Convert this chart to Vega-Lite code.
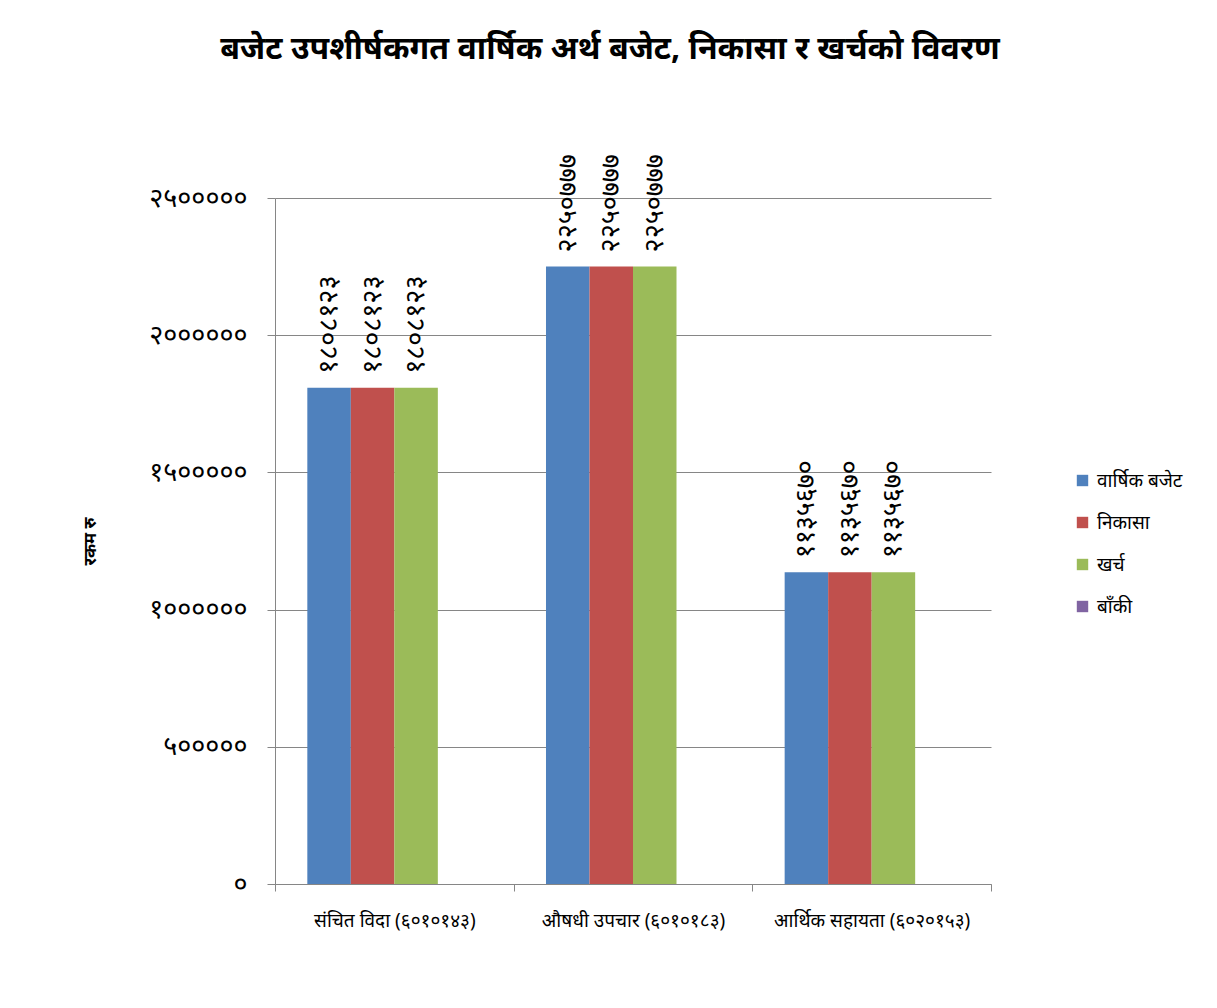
{
  "$schema": "https://vega.github.io/schema/vega-lite/v6.json",
  "autosize": "none",
  "width": 716,
  "height": 686,
  "padding": {"left": 275, "top": 198, "right": 226, "bottom": 124},
  "background": "white",
  "config": {
    "font": "Noto Sans",
    "view": {"stroke": null},
    "axis": {"domainColor": "#868686", "tickColor": "#868686", "gridColor": "#868686", "labelColor": "black", "titleColor": "black"}
  },
  "title": {
    "text": "बजेट उपशीर्षकगत वार्षिक अर्थ बजेट, निकासा र खर्चको विवरण",
    "fontSize": 32,
    "fontWeight": "bold",
    "color": "black",
    "anchor": "middle",
    "frame": "group",
    "dx": -23,
    "offset": 88
  },
  "data": {
    "values": [
      {"category": "संचित विदा (६०१०१४३)", "series": "वार्षिक बजेट", "value": 1808123},
      {"category": "संचित विदा (६०१०१४३)", "series": "निकासा", "value": 1808123},
      {"category": "संचित विदा (६०१०१४३)", "series": "खर्च", "value": 1808123},
      {"category": "संचित विदा (६०१०१४३)", "series": "बाँकी", "value": 0},
      {"category": "औषधी उपचार (६०१०१८३)", "series": "वार्षिक बजेट", "value": 2250777},
      {"category": "औषधी उपचार (६०१०१८३)", "series": "निकासा", "value": 2250777},
      {"category": "औषधी उपचार (६०१०१८३)", "series": "खर्च", "value": 2250777},
      {"category": "औषधी उपचार (६०१०१८३)", "series": "बाँकी", "value": 0},
      {"category": "आर्थिक सहायता (६०२०१५३)", "series": "वार्षिक बजेट", "value": 1135670},
      {"category": "आर्थिक सहायता (६०२०१५३)", "series": "निकासा", "value": 1135670},
      {"category": "आर्थिक सहायता (६०२०१५३)", "series": "खर्च", "value": 1135670},
      {"category": "आर्थिक सहायता (६०२०१५३)", "series": "बाँकी", "value": 0}
    ]
  },
  "encoding": {
    "x": {
      "field": "category",
      "type": "nominal",
      "sort": null,
      "scale": {"paddingInner": 0, "paddingOuter": 0},
      "axis": {
        "title": null,
        "labelAngle": 0,
        "labelFontSize": 19,
        "labelLimit": 0,
        "labelPadding": 20,
        "tickSize": 7,
        "tickBand": "extent",
        "grid": false,
        "domainColor": "#868686"
      }
    },
    "xOffset": {
      "field": "series",
      "type": "nominal",
      "sort": ["वार्षिक बजेट", "निकासा", "खर्च", "बाँकी"],
      "scale": {"paddingInner": 0, "paddingOuter": 0.743}
    },
    "y": {
      "field": "value",
      "type": "quantitative",
      "scale": {"domain": [0, 2500000], "nice": false},
      "axis": {
        "title": "रकम रु",
        "titleFontSize": 17,
        "titleFontWeight": "bold",
        "titleX": -185,
        "titleY": 343,
        "titleAngle": 270,
        "titleAlign": "center",
        "titleBaseline": "middle",
        "values": [0, 500000, 1000000, 1500000, 2000000, 2500000],
        "labelFontSize": 27,
        "labelPadding": 20,
        "tickSize": 8,
        "grid": true,
        "gridColor": "#868686",
        "labelExpr": "replace(replace(replace(replace(replace(replace(replace(replace(replace(replace(toString(datum.value), regexp('0','g'), '०'), regexp('1','g'), '१'), regexp('2','g'), '२'), regexp('3','g'), '३'), regexp('4','g'), '४'), regexp('5','g'), '५'), regexp('6','g'), '६'), regexp('7','g'), '७'), regexp('8','g'), '८'), regexp('9','g'), '९')"
      }
    }
  },
  "layer": [
    {
      "mark": {"type": "bar"},
      "encoding": {
        "color": {
          "field": "series",
          "type": "nominal",
          "scale": {
            "domain": ["वार्षिक बजेट", "निकासा", "खर्च", "बाँकी"],
            "range": ["#4F81BD", "#C0504D", "#9BBB59", "#8064A2"]
          },
          "legend": {
            "title": null,
            "orient": "none",
            "legendX": 798,
            "legendY": 273,
            "symbolType": "square",
            "symbolSize": 130,
            "symbolStrokeWidth": 0,
            "labelFontSize": 19,
            "labelColor": "black",
            "rowPadding": 22,
            "labelOffset": 5
          }
        }
      }
    },
    {
      "transform": [
        {"filter": "datum.value > 0"},
        {"calculate": "replace(replace(replace(replace(replace(replace(replace(replace(replace(replace(toString(datum.value), regexp('0','g'), '०'), regexp('1','g'), '१'), regexp('2','g'), '२'), regexp('3','g'), '३'), regexp('4','g'), '४'), regexp('5','g'), '५'), regexp('6','g'), '६'), regexp('7','g'), '७'), regexp('8','g'), '८'), regexp('9','g'), '९')", "as": "label"}
      ],
      "mark": {"type": "text", "angle": 270, "align": "left", "baseline": "middle", "dx": 14, "fontSize": 27, "color": "black"},
      "encoding": {
        "text": {"field": "label", "type": "nominal"}
      }
    }
  ]
}
